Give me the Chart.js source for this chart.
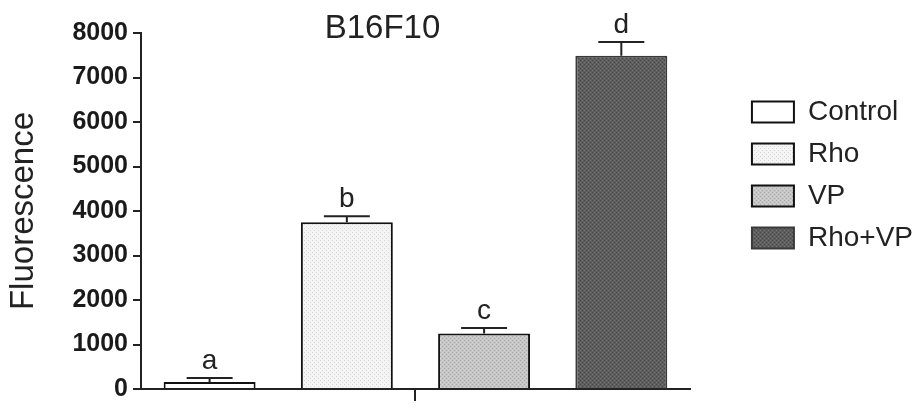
<!DOCTYPE html>
<html>
<head>
<meta charset="utf-8">
<script src="https://cdn.jsdelivr.net/npm/chart.js@4.4.1/dist/chart.umd.min.js"></script>
<style>
  html, body { margin: 0; padding: 0; background: #fff; }
  #wrap { width: 923px; height: 409px; }
</style>
</head>
<body>
<div id="wrap"><canvas id="chart" width="923" height="409"></canvas></div>
<script>
// данные графика
const groups = ['Control', 'Rho', 'VP', 'Rho+VP'];
const values = [160, 3750, 1250, 7490];
const errors = [90, 130, 120, 310];
const letters = ['a', 'b', 'c', 'd'];
const yTicks = [0, 1000, 2000, 3000, 4000, 5000, 6000, 7000, 8000];
const chartTitle = 'B16F10';
const yTitle = 'Fluorescence';

const INK = '#222';

// мелкая текстура заливки, как на скане
function makePattern(base, dot, dot2) {
    const c = document.createElement('canvas');
    c.width = 4; c.height = 4;
    const g = c.getContext('2d');
    g.fillStyle = base;
    g.fillRect(0, 0, 4, 4);
    g.fillStyle = dot;
    g.fillRect(0, 0, 1, 1);
    g.fillRect(2, 2, 1, 1);
    if (dot2) {
        g.fillStyle = dot2;
        g.fillRect(2, 0, 1, 1);
        g.fillRect(0, 2, 1, 1);
    }
    return g.createPattern(c, 'repeat');
}

const fills = [
    '#ffffff',
    makePattern('#f4f4f4', '#d6d6d6'),
    makePattern('#c6c6c6', '#a9a9a9', '#d4d4d4'),
    makePattern('#5e5e5e', '#474747', '#737373')
];
const borders = ['#111', '#111', '#111', '#3a3a3a'];

Chart.defaults.font.family = '"Liberation Sans", Arial, sans-serif';
Chart.defaults.color = INK;

// усы ошибок, буквы над ними и заголовок
const annotations = {
    id: 'annotations',
    afterDatasetsDraw(chart) {
        const ctx = chart.ctx;
        const y = chart.scales.y;
        const x = chart.scales.x;
        ctx.save();
        ctx.strokeStyle = INK;
        ctx.fillStyle = INK;
        ctx.lineWidth = 2;
        chart.data.datasets.forEach((ds, i) => {
            const bar = chart.getDatasetMeta(i).data[0];
            const top = y.getPixelForValue(values[i]);
            const cap = y.getPixelForValue(values[i] + errors[i]);
            const half = bar.width / 4;
            ctx.beginPath();
            ctx.moveTo(bar.x, top);
            ctx.lineTo(bar.x, cap);
            ctx.moveTo(bar.x - half, cap);
            ctx.lineTo(bar.x + half, cap);
            ctx.stroke();

            ctx.font = '28px "Liberation Sans", Arial, sans-serif';
            ctx.textAlign = 'center';
            ctx.textBaseline = 'alphabetic';
            ctx.fillText(letters[i], bar.x, cap - 9);
        });

        ctx.font = '33px "Liberation Sans", Arial, sans-serif';
        ctx.textAlign = 'center';
        ctx.textBaseline = 'alphabetic';
        ctx.fillText(chartTitle, (x.left + x.right) / 2 - 33, 38);
        ctx.restore();
    }
};

const ctx = document.getElementById('chart').getContext('2d');
const chart = new Chart(ctx, {
    type: 'bar',
    data: {
        labels: [''],
        datasets: groups.map((name, i) => ({
            label: name,
            data: [values[i]],
            backgroundColor: fills[i],
            borderColor: borders[i],
            borderWidth: 2,
            borderSkipped: 'bottom',
            barPercentage: 0.67,
            categoryPercentage: 1.0
        }))
    },
    options: {
        responsive: false,
        animation: false,
        layout: { padding: { top: 33, right: 0, bottom: 0, left: 0 } },
        plugins: {
            title: { display: false },
            tooltip: { enabled: false },
            legend: {
                position: 'right',
                align: 'start',
                maxWidth: 200,
                title: {
                    display: true,
                    text: '',
                    font: { size: 10, lineHeight: 1 },
                    padding: { top: 0, bottom: 41 }
                },
                labels: {
                    boxWidth: 42,
                    boxHeight: 21,
                    padding: 14,
                    color: INK,
                    font: { size: 28 }
                }
            }
        },
        scales: {
            x: {
                grid: {
                    drawOnChartArea: false,
                    offset: false,
                    tickLength: 12,
                    lineWidth: 2,
                    color: INK
                },
                border: { color: INK, width: 2 },
                ticks: { display: false }
            },
            y: {
                min: 0,
                max: 8000,
                afterBuildTicks: s => { s.ticks = yTicks.map(v => ({ value: v })); },
                afterFit: s => { s.width = 141; },
                grid: {
                    drawOnChartArea: false,
                    tickLength: 8,
                    lineWidth: 2,
                    color: INK
                },
                border: { color: INK, width: 2 },
                ticks: {
                    padding: 5,
                    color: '#1a1a1a',
                    font: { size: 25, weight: 'bold' },
                    callback: v => String(v)
                },
                title: {
                    display: true,
                    text: yTitle,
                    color: INK,
                    padding: { top: 4, bottom: 0 },
                    font: { size: 33 }
                }
            },
            // пустое место между графиком и легендой
            gap: {
                position: 'right',
                display: true,
                grid: { display: false },
                border: { display: false },
                ticks: { display: false },
                afterFit: s => { s.width = 48; }
            }
        }
    },
    plugins: [annotations]
});
</script>
</body>
</html>
